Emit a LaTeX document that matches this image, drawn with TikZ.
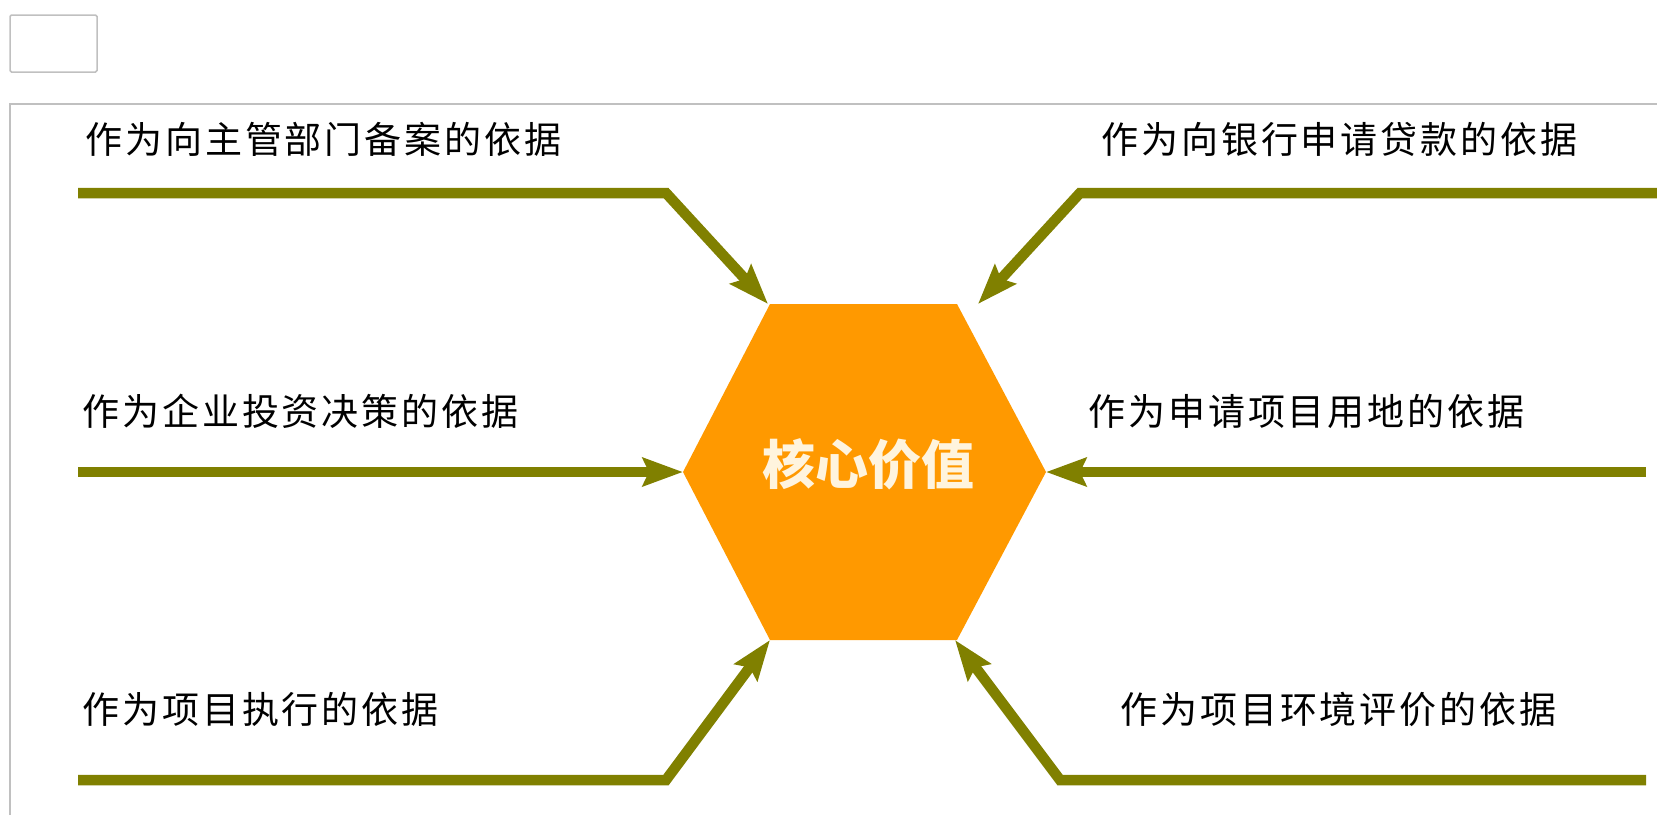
\documentclass[tikz,border=0pt]{standalone}
\usepackage{fontspec}
\usetikzlibrary{arrows.meta}
\newfontfamily\cjklabel[LetterSpace=8]{Noto Sans CJK SC}
\newfontfamily\cjkcore{Noto Sans CJK SC}
\definecolor{olivel}{HTML}{808000}
\definecolor{hexorange}{HTML}{FF9900}
\definecolor{framegray}{HTML}{C0C0C0}
\definecolor{coretext}{HTML}{FFF4DE}
\tikzset{
  lbl/.style={anchor=west, inner sep=0pt, text=black, font=\cjklabel\fontsize{37}{40}\selectfont},
  feed/.style={draw=olivel, line width=10.5pt, line join=miter,
    -{Stealth[length=40pt, width=28pt, inset=6pt]}},
  framebox/.style={draw=framegray, line width=1.5pt}
}
\begin{document}
\begin{tikzpicture}[x=1pt, y=-1pt]
\useasboundingbox (0,0) rectangle (1657,815);
% frames
\draw[framebox, rounded corners=1.5pt] (10,15) rectangle (97,72);
\draw[framebox] (10,815) -- (10,104) -- (1657,104);
% hexagon vertices
\coordinate (hTL) at (770,304);
\coordinate (hTR) at (957,304);
\coordinate (hR)  at (1046,472);
\coordinate (hBR) at (957,640);
\coordinate (hBL) at (770,640);
\coordinate (hL)  at (683,472);
\fill[hexorange] (hTL) -- (hTR) -- (hR) -- (hBR) -- (hBL) -- (hL) -- cycle;
\node[inner sep=0pt, text=coretext, font=\cjkcore\bfseries\fontsize{53}{56}\selectfont] (core) at (868,464) {核心价值};
% arrow tips
\coordinate (tTL) at (768,304);
\coordinate (tTR) at (978,304);
\coordinate (tBL) at (770,640);
\coordinate (tBR) at (955,640);
% line starts and corners
\coordinate (sTL) at (78,193);  \coordinate (cTL) at (666,193);
\coordinate (sTR) at (1657,193); \coordinate (cTR) at (1080,193);
\coordinate (sML) at (78,472);
\coordinate (sMR) at (1646,472);
\coordinate (sBL) at (78,780);  \coordinate (cBL) at (666,780);
\coordinate (sBR) at (1646,780); \coordinate (cBR) at (1060,780);
% connectors
\draw[feed] (sTL) -- (cTL) -- (tTL);
\draw[feed] (sTR) -- (cTR) -- (tTR);
\draw[feed] (sML) -- (hL);
\draw[feed] (sMR) -- (hR);
\draw[feed] (sBL) -- (cBL) -- (tBL);
\draw[feed] (sBR) -- (cBR) -- (tBR);
% labels
\node[lbl] (lTL) at (85,139) {作为向主管部门备案的依据};
\node[lbl] (lTR) at (1101,139) {作为向银行申请贷款的依据};
\node[lbl] (lML) at (82,411) {作为企业投资决策的依据};
\node[lbl] (lMR) at (1088,411) {作为申请项目用地的依据};
\node[lbl] (lBL) at (82,709) {作为项目执行的依据};
\node[lbl] (lBR) at (1120,709) {作为项目环境评价的依据};
\end{tikzpicture}
\end{document}
